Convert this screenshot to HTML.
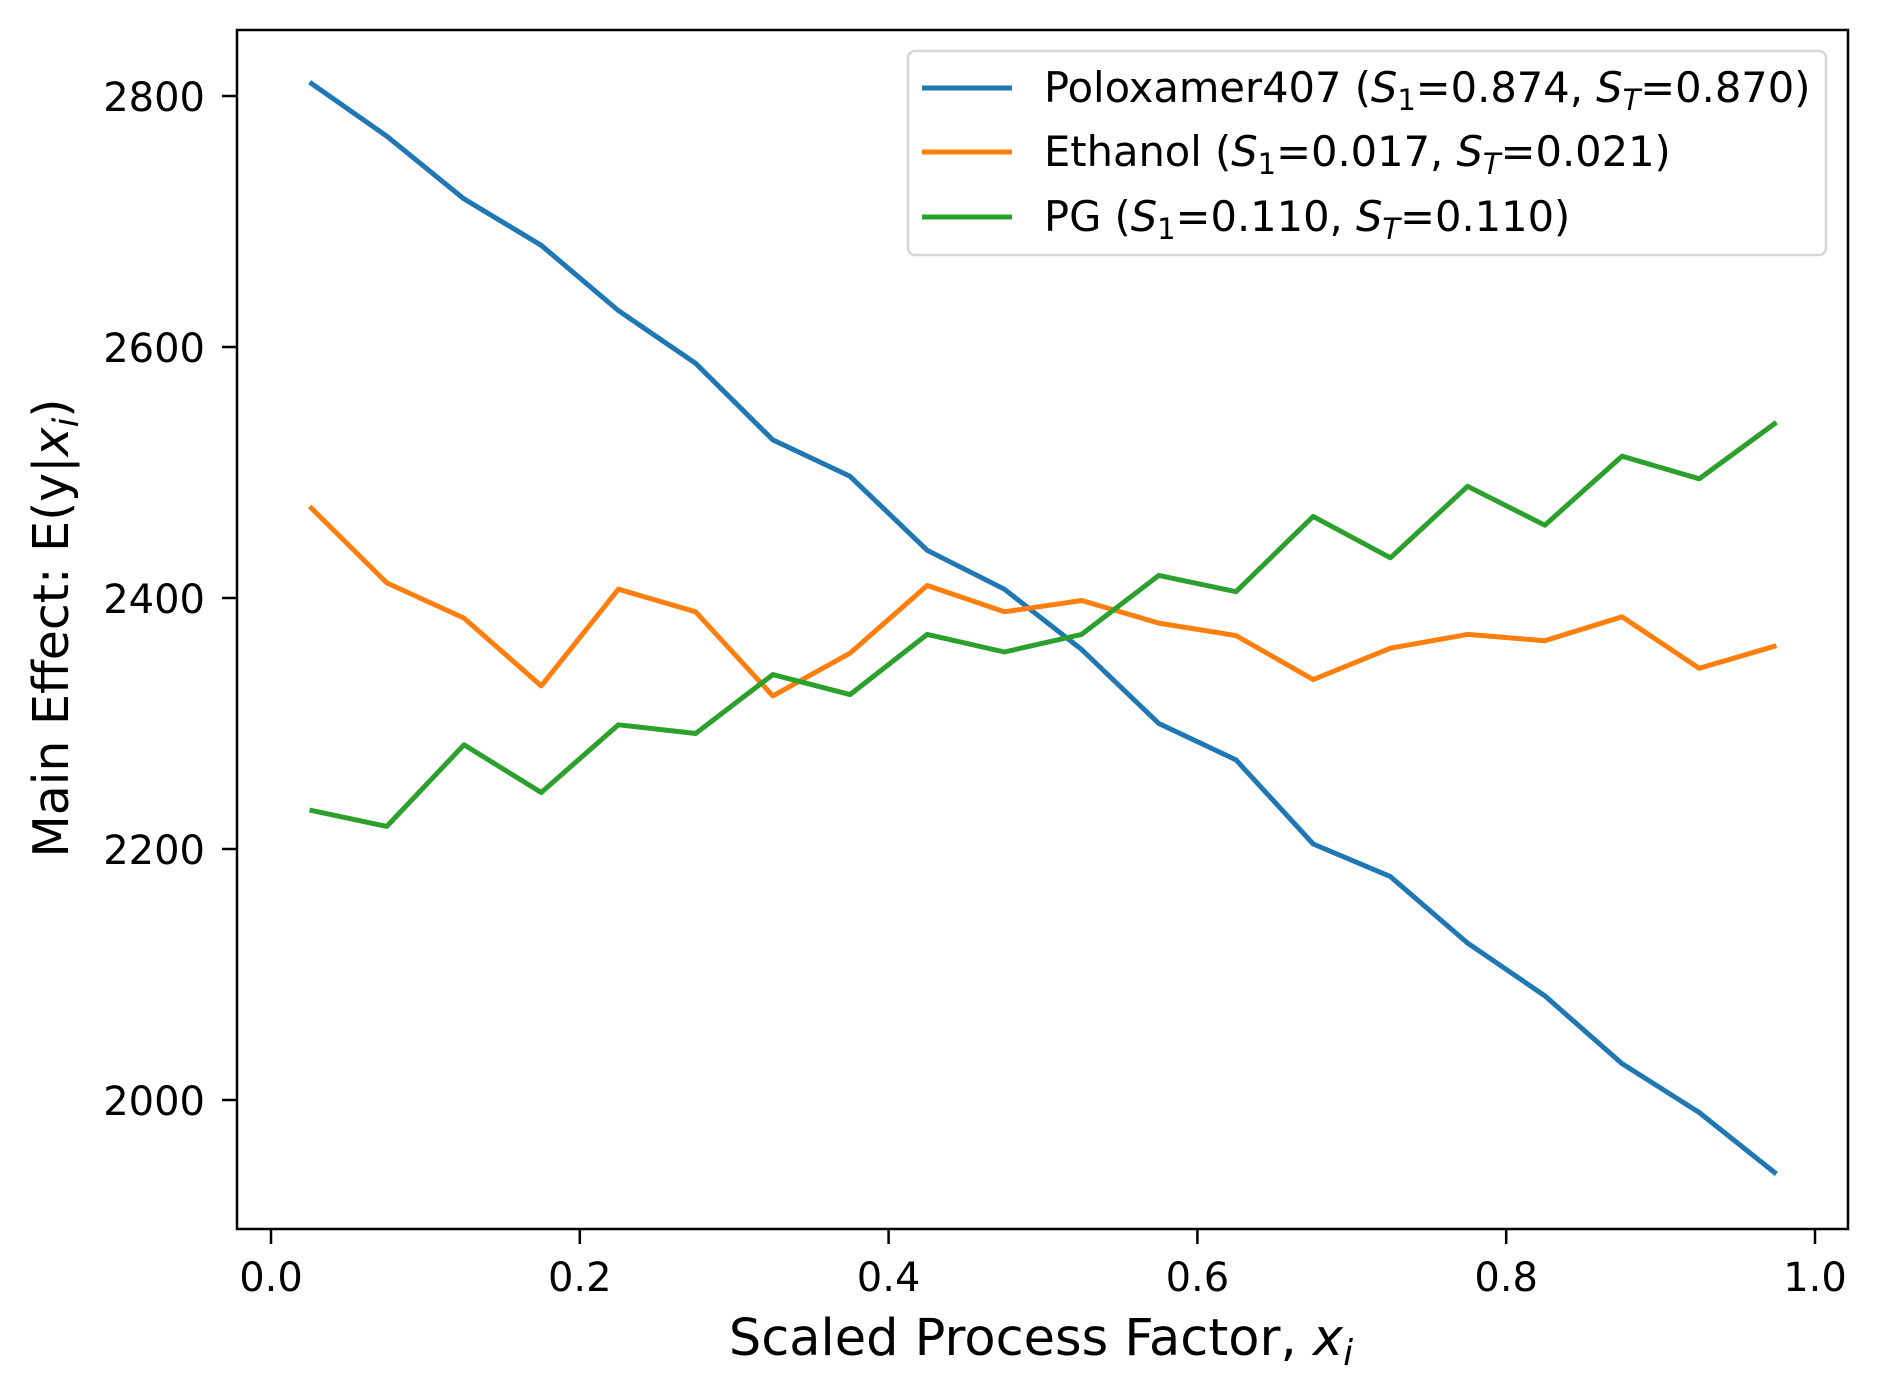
<!DOCTYPE html>
<html><head><meta charset="utf-8"><style>
html,body{margin:0;padding:0;background:#fff;}
svg{display:block;font-family:"DejaVu Sans","Liberation Sans",sans-serif;}
</style></head><body>
<svg id="chart" width="1877" height="1397" viewBox="0 0 1877 1397" xmlns="http://www.w3.org/2000/svg">
<rect width="1877" height="1397" fill="#fff"/>
<g id="plot"></g>
<rect x="237" y="30" width="1611" height="1199" fill="none" stroke="#000" stroke-width="2.5"/>
<g id="ticks"></g>
<text x="1041" y="1355" font-size="51" text-anchor="middle">Scaled Process Factor, <tspan font-style="italic">x</tspan><tspan font-style="italic" font-size="36" dy="10">i</tspan></text>
<text transform="translate(68,628) rotate(-90)" font-size="49" text-anchor="middle">Main Effect: E(y|<tspan font-style="italic">x</tspan><tspan font-style="italic" font-size="35" dy="10">i</tspan><tspan dy="-10">)</tspan></text>
<g>
<rect x="908" y="51" width="918" height="204" rx="7" fill="#fff" fill-opacity="0.8" stroke="#d5d5d5" stroke-width="2.5"/>
<line x1="922" x2="1012" y1="88" y2="88" stroke="#1f77b4" stroke-width="5"/>
<text x="1044" y="102" font-size="41.6">Poloxamer407 (<tspan font-style="italic">S</tspan><tspan font-size="29" dy="8">1</tspan><tspan dy="-8">=0.874, </tspan><tspan font-style="italic">S</tspan><tspan font-style="italic" font-size="29" dy="8">T</tspan><tspan dy="-8">=0.870)</tspan></text>
<line x1="922" x2="1012" y1="152" y2="152" stroke="#ff7f0e" stroke-width="5"/>
<text x="1044" y="166" font-size="41.6">Ethanol (<tspan font-style="italic">S</tspan><tspan font-size="29" dy="8">1</tspan><tspan dy="-8">=0.017, </tspan><tspan font-style="italic">S</tspan><tspan font-style="italic" font-size="29" dy="8">T</tspan><tspan dy="-8">=0.021)</tspan></text>
<line x1="922" x2="1012" y1="217" y2="217" stroke="#2ca02c" stroke-width="5"/>
<text x="1044" y="231" font-size="41.6">PG (<tspan font-style="italic">S</tspan><tspan font-size="29" dy="8">1</tspan><tspan dy="-8">=0.110, </tspan><tspan font-style="italic">S</tspan><tspan font-style="italic" font-size="29" dy="8">T</tspan><tspan dy="-8">=0.110)</tspan></text>
</g>
</svg>
<script>
const xValues = [0.025,0.075,0.125,0.175,0.225,0.275,0.325,0.375,0.425,0.475,0.525,0.575,0.625,0.675,0.725,0.775,0.825,0.875,0.925,0.975];
const poloxamer = [2811,2768,2718,2681,2629,2587,2526,2497,2438,2407,2359,2300,2271,2204,2178,2125,2083,2029,1990,1941];
const ethanol = [2473,2412,2384,2330,2407,2389,2322,2356,2410,2389,2398,2380,2370,2335,2360,2371,2366,2385,2344,2362];
const pg = [2231,2218,2283,2245,2299,2292,2339,2323,2371,2357,2371,2418,2405,2465,2432,2489,2458,2513,2495,2540];
const xTicks = [0.0,0.2,0.4,0.6,0.8,1.0];
const xTickLabels = ["0.0","0.2","0.4","0.6","0.8","1.0"];
const yTicks = [2000,2200,2400,2600,2800];
const yTickLabels = ["2000","2200","2400","2600","2800"];

const NS = "http://www.w3.org/2000/svg";
function xs(v){ return 271 + v*(1815-271); }
function ys(v){ return 96 + (2800-v)*(1100-96)/800; }

const plot = document.getElementById('plot');
const ticks = document.getElementById('ticks');
function drawSeries(vals, color, name){
  const p = document.createElementNS(NS,'polyline');
  p.setAttribute('points', vals.map((v,i)=>xs(xValues[i]).toFixed(1)+','+ys(v).toFixed(1)).join(' '));
  p.setAttribute('fill','none');
  p.setAttribute('stroke',color);
  p.setAttribute('stroke-width','5');
  p.setAttribute('stroke-linejoin','round');
  
  
  plot.appendChild(p);
}
drawSeries(poloxamer,'#1f77b4','poloxamer407-line');
drawSeries(ethanol,'#ff7f0e','ethanol-line');
drawSeries(pg,'#2ca02c','pg-line');

xTicks.forEach((t,i)=>{
  const x = xs(t);
  const l = document.createElementNS(NS,'line');
  l.setAttribute('x1',x); l.setAttribute('x2',x); l.setAttribute('y1',1229); l.setAttribute('y2',1244);
  l.setAttribute('stroke','#000'); l.setAttribute('stroke-width','2.5');
  
  
  ticks.appendChild(l);
  const tx = document.createElementNS(NS,'text');
  tx.setAttribute('x',x); tx.setAttribute('y',1291); tx.setAttribute('font-size','40'); tx.setAttribute('text-anchor','middle');
  tx.textContent = xTickLabels[i];
  
  
  ticks.appendChild(tx);
});
yTicks.forEach((t,i)=>{
  const y = ys(t);
  const l = document.createElementNS(NS,'line');
  l.setAttribute('x1',222); l.setAttribute('x2',237); l.setAttribute('y1',y); l.setAttribute('y2',y);
  l.setAttribute('stroke','#000'); l.setAttribute('stroke-width','2.5');
  
  
  ticks.appendChild(l);
  const tx = document.createElementNS(NS,'text');
  tx.setAttribute('x',205); tx.setAttribute('y',y+15); tx.setAttribute('font-size','40'); tx.setAttribute('text-anchor','end');
  tx.textContent = yTickLabels[i];
  
  
  ticks.appendChild(tx);
});
</script>
</body></html>
